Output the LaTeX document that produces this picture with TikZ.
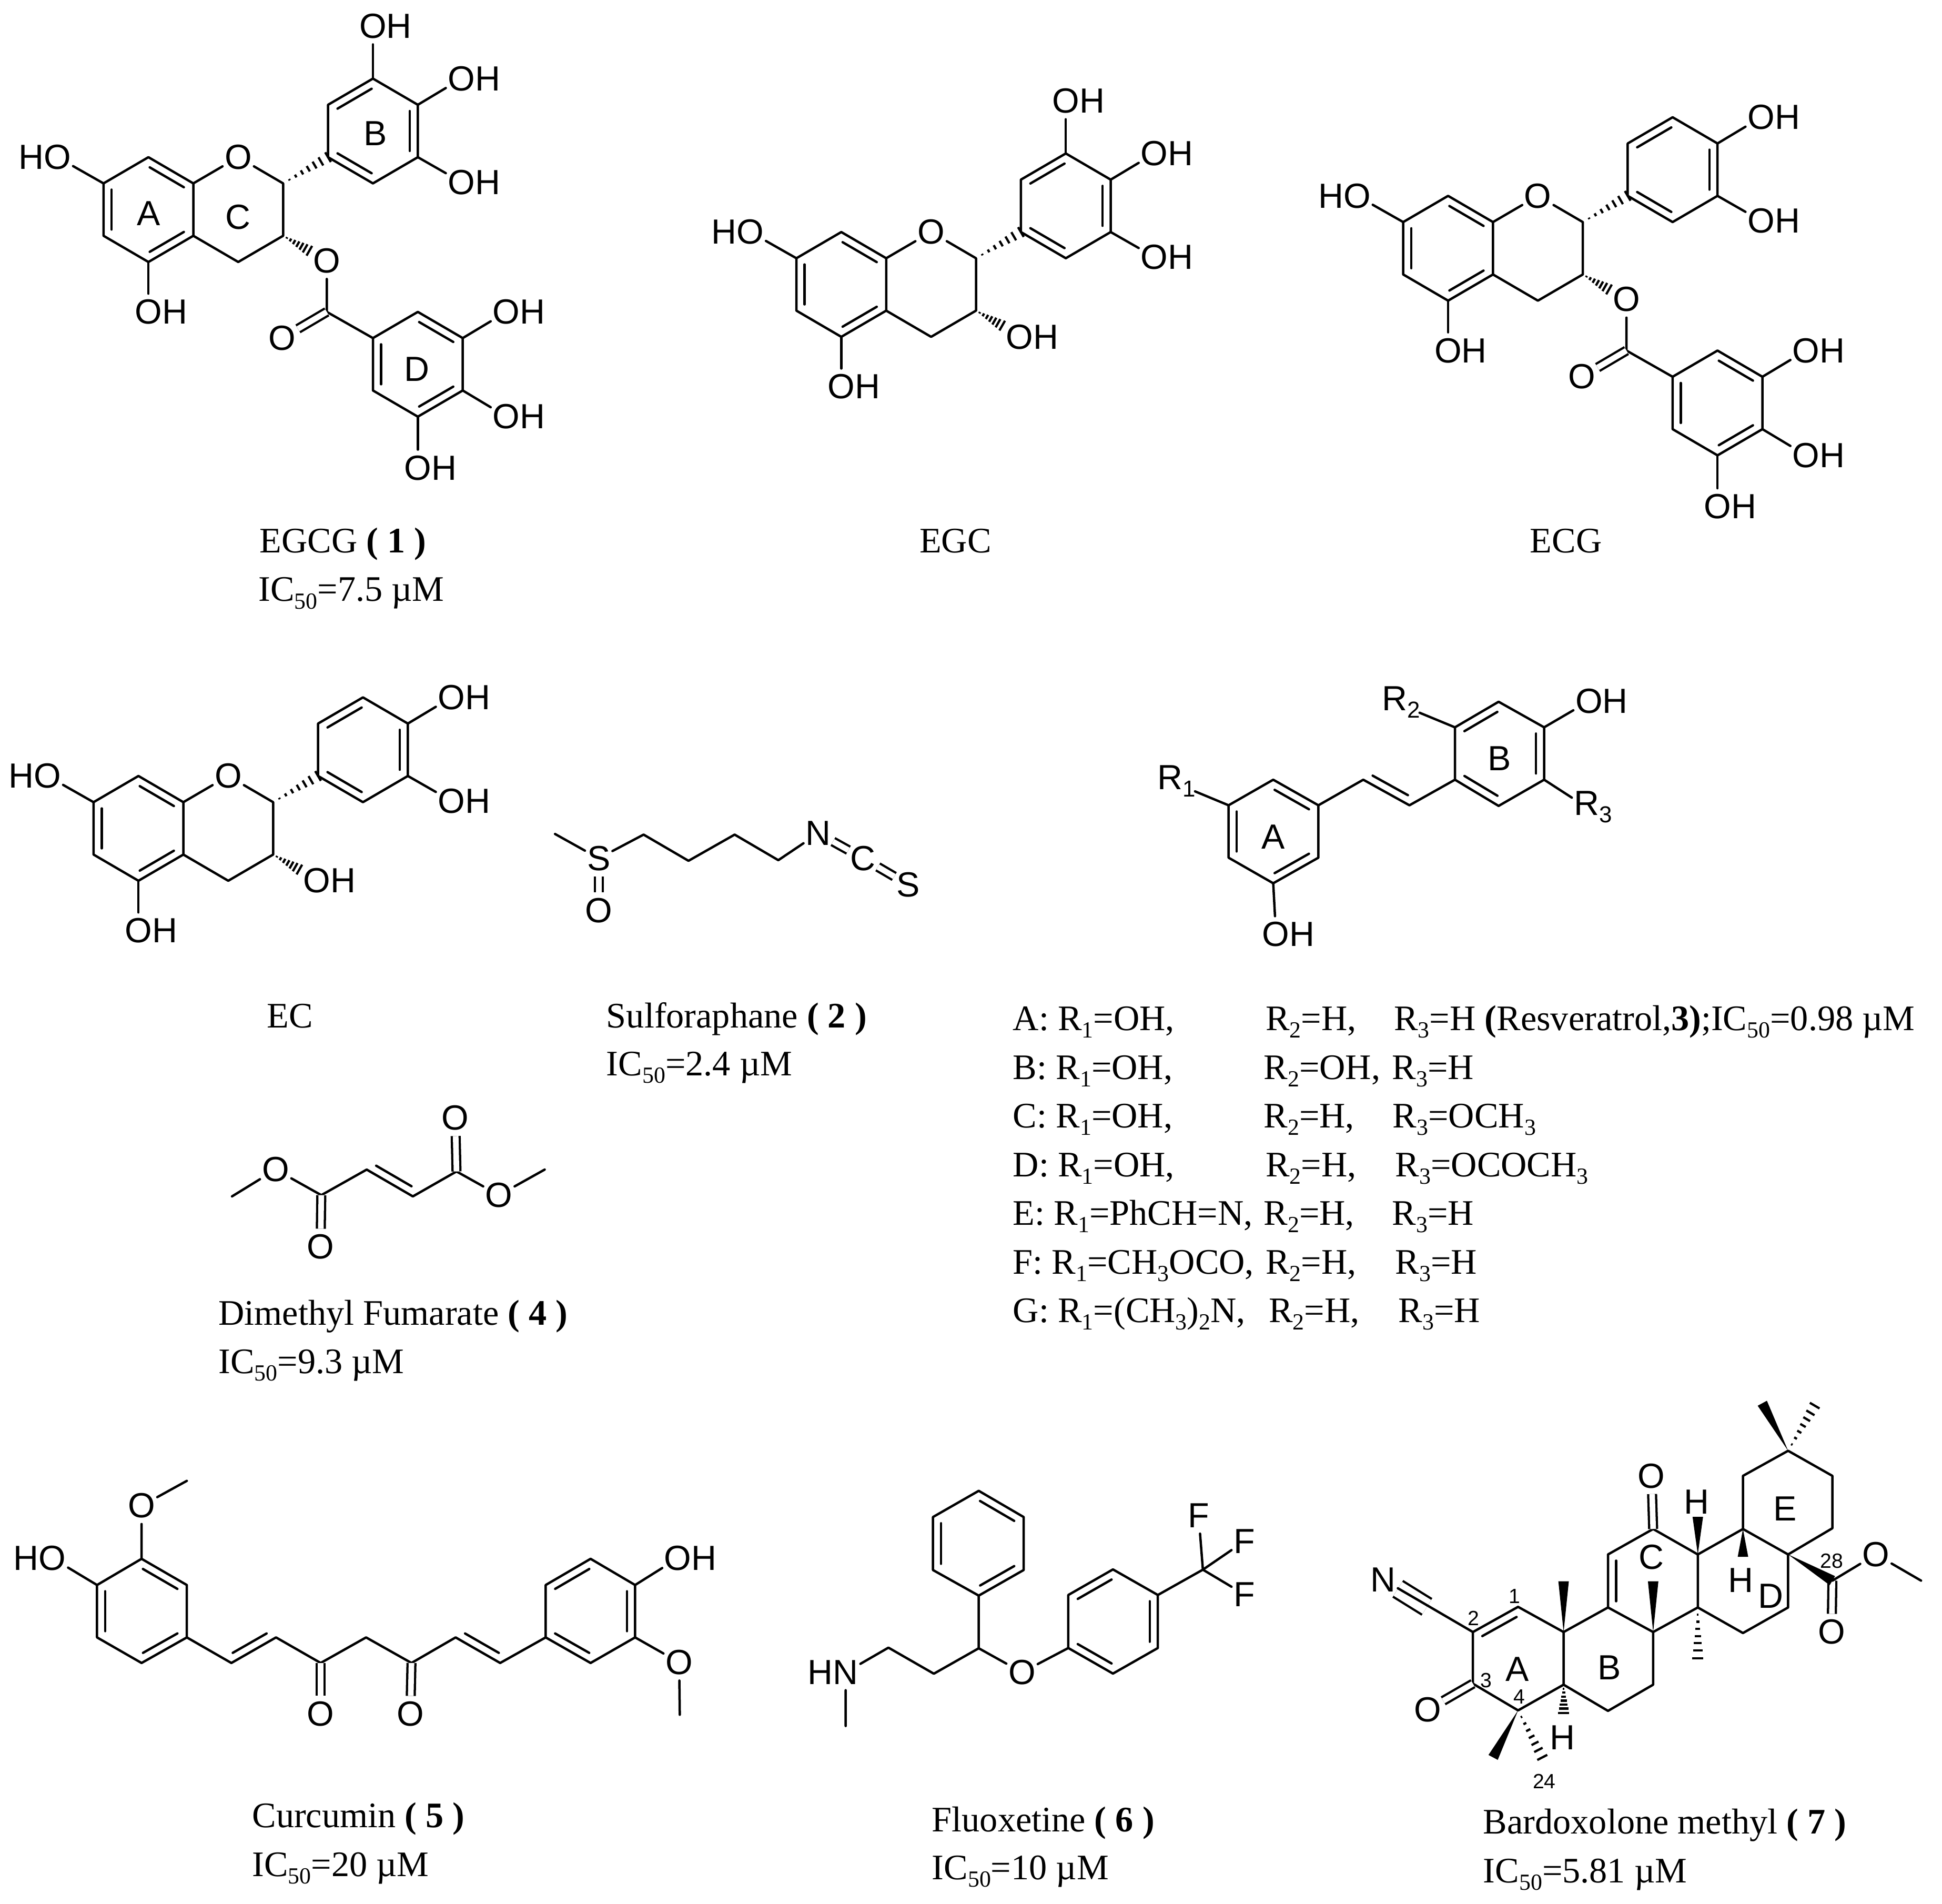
\documentclass[tikz,border=0pt]{standalone}
\usepackage{fontspec}
\setmainfont{Liberation Serif}
\setsansfont{Liberation Sans}
\usetikzlibrary{calc}

\newcommand{\subs}[1]{\raisebox{-6pt}{\fontsize{18.5}{20}\selectfont #1}}
\newcommand{\icfifty}[1]{IC\subs{50}=#1 µM}

\tikzset{
  bond/.style={line width=1.9pt, line join=round, line cap=round},
  innerline/.style={bond, shorten >=5pt, shorten <=5pt},
  dbl/.style={line width=1.8pt, double, double distance=4.5pt},
  atom/.style={font=\sffamily\fontsize{28}{30}\selectfont, inner xsep=1.5pt, inner ysep=4.5pt},
  num/.style={font=\sffamily\fontsize{16.5}{18}\selectfont, inner sep=0pt},
  capt/.style={font=\rmfamily\fontsize{28.8}{32}\selectfont, anchor=base west, inner sep=0pt},
}

\newcommand{\innerbond}[2]{\draw[innerline] ($(#1)!6.5pt!-90:(#2)$) -- ($(#2)!6.5pt!90:(#1)$);}
\newcommand{\wedgebond}[2]{\fill (#1) -- ($(#2)!4.2pt!90:(#1)$) -- ($(#2)!4.2pt!-90:(#1)$) -- cycle;}
\newcommand{\hashbond}[2]{\foreach \hbt in {.14,.28,.42,.56,.7,.84,1}{
    \coordinate (hb) at ($(#1)!\hbt!(#2)$);
    \draw[line width=1.8pt] ($(hb)!\hbt*4.5pt!90:(#1)$) -- ($(hb)!\hbt*4.5pt!-90:(#1)$);}}

\newcommand{\flavancore}{
  \coordinate (a1) at (0,0);
  \coordinate (a2) at (36,21);
  \coordinate (a3) at (36,63);
  \coordinate (a4) at (0,84);
  \coordinate (a5) at (-36,63);
  \coordinate (a6) at (-36,21);
  \coordinate (c2) at (108,21);
  \coordinate (c3) at (108,63);
  \coordinate (c4) at (72,84);
  \coordinate (b1) at (180,-63);
  \coordinate (b2) at (216,-42);
  \coordinate (b3) at (216,0);
  \coordinate (b4) at (180,21);
  \coordinate (b5) at (144,0);
  \coordinate (b6) at (144,-42);
  \coordinate (h3) at (129,75);
  \node[atom] (o1) at (72,0) {O};
  \node[atom] (ho7) at (-73,0) {\llap{H}O};
  \node[atom] (oh5) at (0,124) {O\rlap{H}};
  \draw[bond] (a1) -- (a2) -- (a3) -- (a4) -- (a5) -- (a6) -- cycle;
  \draw[bond] (a2) -- (o1) -- (c2) -- (c3) -- (c4) -- (a3);
  \draw[bond] (a6) -- (ho7);
  \draw[bond] (a4) -- (oh5);
  \innerbond{a1}{a2}
  \innerbond{a3}{a4}
  \innerbond{a5}{a6}
  \hashbond{c2}{b5}
  \hashbond{c3}{h3}
  \draw[bond] (b1) -- (b2) -- (b3) -- (b4) -- (b5) -- (b6) -- cycle;
  \innerbond{b6}{b1}
  \innerbond{b2}{b3}
  \innerbond{b4}{b5}
  \node[atom] (oh4) at (251,-63) {O\rlap{H}};
  \node[atom] (oh3) at (251,20) {O\rlap{H}};
  \draw[bond] (b2) -- (oh4);
  \draw[bond] (b3) -- (oh3);
}
\newcommand{\thirdoh}{
  \node[atom] (oh5b) at (180,-105) {O\rlap{H}};
  \draw[bond] (b1) -- (oh5b);
}
\newcommand{\freeoh}{
  \node[atom] (oh3c) at (143,84) {O\rlap{H}};
}
\newcommand{\gallate}{
  \node[atom] (oe) at (143,83) {O};
  \coordinate (ce) at (143,124);
  \node[atom] (oc) at (107.3,145) {O};
  \coordinate (d1) at (180,145);
  \coordinate (d2) at (216,124);
  \coordinate (d3) at (252,145);
  \coordinate (d4) at (252,187);
  \coordinate (d5) at (216,208);
  \coordinate (d6) at (180,187);
  \node[atom] (ohd3) at (287,124) {O\rlap{H}};
  \node[atom] (ohd4) at (287,208) {O\rlap{H}};
  \node[atom] (ohd5) at (216,249) {O\rlap{H}};
  \draw[bond] (oe) -- (ce) -- (d1);
  \draw[dbl] (ce) -- (oc);
  \draw[bond] (d1) -- (d2) -- (d3) -- (d4) -- (d5) -- (d6) -- cycle;
  \innerbond{d2}{d3}
  \innerbond{d4}{d5}
  \innerbond{d6}{d1}
  \draw[bond] (d3) -- (ohd3);
  \draw[bond] (d4) -- (ohd4);
  \draw[bond] (d5) -- (ohd5);
}

\begin{document}
\begin{tikzpicture}[x=1pt, y=-1pt]
  \useasboundingbox (0,0) rectangle (1557,1526);

  \begin{scope}[shift={(119,126)}, name prefix=egcg-]
    \flavancore
    \thirdoh
    \gallate
    \node[atom] (ringa) at (0,45) {A};
    \node[atom] (ringc) at (72,48) {C};
    \node[atom] (ringb) at (182,-19) {B};
    \node[atom] (ringd) at (215,170) {D};
  \end{scope}
  \node[capt] (egcgname) at (208,443) {EGCG \textbf{( 1 )}};
  \node[capt] (egcgic) at (207,482) {\icfifty{7.5}};

  \begin{scope}[shift={(674.5,186)}, name prefix=egc-]
    \flavancore
    \thirdoh
    \freeoh
  \end{scope}
  \node[capt] (egcname) at (737,443) {EGC};

  \begin{scope}[shift={(1161,157)}, name prefix=ecg-]
    \flavancore
    \gallate
  \end{scope}
  \node[capt] (ecgname) at (1226.5,443) {ECG};

  \begin{scope}[shift={(111,622)}, name prefix=ec-]
    \flavancore
    \freeoh
  \end{scope}
  \node[capt] (ecname) at (214,824) {EC};

  \begin{scope}[name prefix=sfn-]
    \coordinate (me) at (445,668.5);
    \node[atom] (s) at (480,688) {S};
    \node[atom] (so) at (480,730) {O};
    \coordinate (c1) at (516,669);
    \coordinate (c2) at (552,690);
    \coordinate (c3) at (589,669);
    \coordinate (c4) at (624,689.5);
    \node[atom] (n) at (656,668) {N};
    \node[atom] (c) at (692,688) {C};
    \node[atom] (st) at (728,709) {S};
    \draw[bond] (me) -- (s) -- (c1) -- (c2) -- (c3) -- (c4) -- (n);
    \draw[dbl] (s) -- (so);
    \draw[dbl] (n) -- (c);
    \draw[dbl] (c) -- (st);
  \end{scope}
  \node[capt] (sfnname) at (486,824) {Sulforaphane \textbf{( 2 )}};
  \node[capt] (sfnic) at (486,862) {\icfifty{2.4}};

  \begin{scope}[shift={(-3,0)}, name prefix=res-]
    \coordinate (a1) at (1023.8,625);
    \coordinate (a2) at (1060,645.5);
    \coordinate (a3) at (1060,687.5);
    \coordinate (a4) at (1023.8,708);
    \coordinate (a5) at (988,687.5);
    \coordinate (a6) at (988,645.5);
    \coordinate (v1) at (1096,625);
    \coordinate (v2) at (1133,645.5);
    \coordinate (b1) at (1169.5,625);
    \coordinate (b2) at (1169.5,583);
    \coordinate (b3) at (1204.5,562.5);
    \coordinate (b4) at (1241,583);
    \coordinate (b5) at (1241,625);
    \coordinate (b6) at (1204.5,646);
    \node[atom] (r1) at (941,626) {R\rlap{\subs{1}}};
    \node[atom] (r2) at (1121,563) {R\rlap{\subs{2}}};
    \node[atom] (r3) at (1275,647) {R\rlap{\subs{3}}};
    \node[atom] (oha) at (1026,749) {O\rlap{H}};
    \node[atom] (ohb) at (1277,562) {O\rlap{H}};
    \node[atom] (ringa) at (1024,671) {A};
    \node[atom] (ringb) at (1205,608) {B};
    \draw[bond] (a1) -- (a2) -- (a3) -- (a4) -- (a5) -- (a6) -- cycle;
    \draw[bond] (b1) -- (b2) -- (b3) -- (b4) -- (b5) -- (b6) -- cycle;
    \draw[bond] (a2) -- (v1) -- (v2) -- (b1);
    \draw[bond, shorten >=9pt] (a6) -- (r1);
    \draw[bond] (a4) -- (oha);
    \draw[bond, shorten >=9pt] (b2) -- (r2);
    \draw[bond] (b4) -- (ohb);
    \draw[bond] (b5) -- (r3);
    \innerbond{a1}{a2}
    \innerbond{a3}{a4}
    \innerbond{a5}{a6}
    \innerbond{b2}{b3}
    \innerbond{b4}{b5}
    \innerbond{b6}{b1}
    \innerbond{v2}{v1}
  \end{scope}

  \node[capt] (rowa) at (812,826) {A: R\subs{1}=OH,};
  \node[capt] (rowatwo) at (1014.5,826) {R\subs{2}=H,};
  \node[capt] (rowathree) at (1117.5,826) {R\subs{3}=H \textbf{(}Resveratrol,\textbf{3)};IC\subs{50}=0.98 µM};
  \node[capt] (rowb) at (812,865) {B: R\subs{1}=OH,};
  \node[capt] (rowbtwo) at (1013,865) {R\subs{2}=OH,};
  \node[capt] (rowbthree) at (1116,865) {R\subs{3}=H};
  \node[capt] (rowc) at (812,904) {C: R\subs{1}=OH,};
  \node[capt] (rowctwo) at (1013,904) {R\subs{2}=H,};
  \node[capt] (rowcthree) at (1116.5,904) {R\subs{3}=OCH\subs{3}};
  \node[capt] (rowd) at (812,943) {D: R\subs{1}=OH,};
  \node[capt] (rowdtwo) at (1014.5,943) {R\subs{2}=H,};
  \node[capt] (rowdthree) at (1118.5,943) {R\subs{3}=OCOCH\subs{3}};
  \node[capt] (rowe) at (812,982) {E: R\subs{1}=PhCH=N,};
  \node[capt] (rowetwo) at (1013,982) {R\subs{2}=H,};
  \node[capt] (rowethree) at (1116,982) {R\subs{3}=H};
  \node[capt] (rowf) at (812,1021) {F: R\subs{1}=CH\subs{3}OCO,};
  \node[capt] (rowftwo) at (1014.5,1021) {R\subs{2}=H,};
  \node[capt] (rowfthree) at (1118.5,1021) {R\subs{3}=H};
  \node[capt] (rowg) at (812,1060) {G: R\subs{1}=(CH\subs{3})\subs{2}N,};
  \node[capt] (rowgtwo) at (1017,1060) {R\subs{2}=H,};
  \node[capt] (rowgthree) at (1121,1060) {R\subs{3}=H};

  \begin{scope}[shift={(-1,-2)}, name prefix=dmf-]
    \coordinate (me1) at (187,961);
    \node[atom] (o1) at (222,939.5) {O};
    \coordinate (c1) at (258.6,960);
    \node[atom] (od) at (258,1001.5) {O};
    \coordinate (c2) at (295,939.5);
    \coordinate (c3) at (332,961);
    \coordinate (c4) at (367,941);
    \node[atom] (ou) at (366,898) {O};
    \node[atom] (o2) at (401,960) {O};
    \coordinate (me2) at (437.7,939.5);
    \draw[bond] (me1) -- (o1) -- (c1) -- (c2) -- (c3) -- (c4) -- (o2) -- (me2);
    \draw[dbl] (c1) -- (od);
    \draw[dbl] (c4) -- (ou);
    \innerbond{c3}{c2}
  \end{scope}
  \node[capt] (dmfname) at (175,1062) {Dimethyl Fumarate \textbf{( 4 )}};
  \node[capt] (dmfic) at (175,1101) {\icfifty{9.3}};

  \begin{scope}[shift={(-1.5,-.5)}, name prefix=cur-]
    \coordinate (a1) at (115,1250);
    \coordinate (a2) at (151.3,1271);
    \coordinate (a3) at (151.3,1313);
    \coordinate (a4) at (115,1333.5);
    \coordinate (a5) at (79.3,1313);
    \coordinate (a6) at (79.3,1271);
    \coordinate (c1) at (187,1333.5);
    \coordinate (c2) at (222.8,1313);
    \coordinate (c3) at (258.6,1333.5);
    \coordinate (c4) at (295,1313);
    \coordinate (c5) at (331.4,1333.5);
    \coordinate (c6) at (366.8,1313);
    \coordinate (c7) at (402.5,1333.5);
    \coordinate (b1) at (475,1250);
    \coordinate (b2) at (510.7,1271);
    \coordinate (b3) at (510.7,1313);
    \coordinate (b4) at (475,1333.5);
    \coordinate (b5) at (439,1313);
    \coordinate (b6) at (439,1271);
    \coordinate (me1) at (151.3,1187.5);
    \coordinate (me2) at (546.5,1375);
    \node[atom] (om1) at (115,1207.5) {O};
    \node[atom] (ho) at (43.5,1249.5) {\llap{H}O};
    \node[atom] (oh) at (545,1249.5) {O\rlap{H}};
    \node[atom] (om2) at (546,1333) {O};
    \node[atom] (ok1) at (258.6,1374.5) {O};
    \node[atom] (ok2) at (330.5,1374.5) {O};
    \draw[bond] (a1) -- (a2) -- (a3) -- (a4) -- (a5) -- (a6) -- cycle;
    \draw[bond] (b1) -- (b2) -- (b3) -- (b4) -- (b5) -- (b6) -- cycle;
    \draw[bond] (a3) -- (c1) -- (c2) -- (c3) -- (c4) -- (c5) -- (c6) -- (c7) -- (b5);
    \draw[bond] (a1) -- (om1) -- (me1);
    \draw[bond] (a6) -- (ho);
    \draw[bond] (b2) -- (oh);
    \draw[bond] (b3) -- (om2) -- (me2);
    \draw[dbl] (c3) -- (ok1);
    \draw[dbl] (c5) -- (ok2);
    \innerbond{a1}{a2}
    \innerbond{a3}{a4}
    \innerbond{a5}{a6}
    \innerbond{b6}{b1}
    \innerbond{b2}{b3}
    \innerbond{b4}{b5}
    \innerbond{c2}{c1}
    \innerbond{c7}{c6}
  \end{scope}
  \node[capt] (curname) at (202,1465) {Curcumin \textbf{( 5 )}};
  \node[capt] (curic) at (202,1504) {\icfifty{20}};

  \begin{scope}[shift={(-2,0)}, name prefix=flx-]
    \node[atom] (hn) at (680,1340.5) {\llap{H}N};
    \coordinate (me) at (680,1383.5);
    \coordinate (c1) at (714.3,1320.7);
    \coordinate (c2) at (750.7,1341.6);
    \coordinate (c3) at (786.7,1321.2);
    \coordinate (a1) at (786.7,1195);
    \coordinate (a2) at (822.7,1216);
    \coordinate (a3) at (822.7,1258.5);
    \coordinate (a4) at (786.7,1279);
    \coordinate (a5) at (750,1258.5);
    \coordinate (a6) at (750,1216);
    \node[atom] (o) at (821.4,1340.5) {O};
    \coordinate (b1) at (894.3,1258);
    \coordinate (b2) at (930.3,1278.5);
    \coordinate (b3) at (930.3,1321);
    \coordinate (b4) at (894.3,1341.5);
    \coordinate (b5) at (858.5,1321);
    \coordinate (b6) at (858.5,1278.5);
    \coordinate (cf) at (966.4,1258.2);
    \node[atom] (f1) at (963,1215) {F};
    \node[atom] (f2) at (999.6,1235.5) {F};
    \node[atom] (f3) at (999.6,1278) {F};
    \draw[bond] (me) -- (hn) -- (c1) -- (c2) -- (c3) -- (a4);
    \draw[bond] (c3) -- (o) -- (b5);
    \draw[bond] (a1) -- (a2) -- (a3) -- (a4) -- (a5) -- (a6) -- cycle;
    \draw[bond] (b1) -- (b2) -- (b3) -- (b4) -- (b5) -- (b6) -- cycle;
    \draw[bond] (b2) -- (cf);
    \draw[bond] (cf) -- (f1);
    \draw[bond] (cf) -- (f2);
    \draw[bond] (cf) -- (f3);
    \innerbond{a1}{a2}
    \innerbond{a3}{a4}
    \innerbond{a5}{a6}
    \innerbond{b6}{b1}
    \innerbond{b2}{b3}
    \innerbond{b4}{b5}
  \end{scope}
  \node[capt] (flxname) at (747,1468) {Fluoxetine \textbf{( 6 )}};
  \node[capt] (flxic) at (747,1506.5) {\icfifty{10}};

  \begin{scope}[shift={(-2.5,0)}, name prefix=bar-]
    \coordinate (c1) at (1219.6,1288);
    \coordinate (c2) at (1183.4,1308.2);
    \coordinate (c3) at (1183.4,1349.6);
    \coordinate (c4) at (1219.6,1371);
    \coordinate (c5) at (1256.1,1350.4);
    \coordinate (c10) at (1256.1,1308.2);
    \coordinate (c9) at (1291.7,1288.5);
    \coordinate (c8) at (1327.9,1308.2);
    \coordinate (c7) at (1327.9,1350.4);
    \coordinate (c6) at (1291.7,1371.4);
    \coordinate (c11) at (1291.7,1246);
    \coordinate (c12) at (1327.9,1225.6);
    \coordinate (c13) at (1363.7,1246);
    \coordinate (c14) at (1363.7,1288.5);
    \coordinate (c15) at (1399.9,1309);
    \coordinate (c16) at (1436.1,1288.5);
    \coordinate (c17) at (1436.1,1246);
    \coordinate (c18) at (1399.9,1225.6);
    \coordinate (c19) at (1399.9,1183);
    \coordinate (c20) at (1436.1,1162.9);
    \coordinate (c21) at (1471.6,1183);
    \coordinate (c22) at (1471.6,1225);
    \coordinate (ce) at (1471.6,1267);
    \coordinate (cn) at (1146.5,1288);
    \coordinate (me) at (1542.7,1267);
    \coordinate (w20a) at (1415.4,1124.8);
    \coordinate (w20b) at (1457.4,1126.7);
    \coordinate (w10) at (1256.1,1267.5);
    \coordinate (w8) at (1327.9,1267.5);
    \coordinate (w14) at (1363.7,1329.4);
    \coordinate (w13) at (1363.7,1215.9);
    \coordinate (w18) at (1399.9,1247.9);
    \coordinate (w5) at (1256.1,1373.2);
    \coordinate (w4a) at (1199.6,1408.7);
    \coordinate (w4b) at (1239,1408.7);
    \node[atom] (nit) at (1111.4,1266.2) {N};
    \node[atom] (o3) at (1147,1370.6) {O};
    \node[atom] (o12) at (1326.6,1183) {O};
    \node[atom] (oc) at (1471,1308.2) {O};
    \node[atom] (oe) at (1506.5,1246) {O};
    \node[atom] (h13) at (1362.8,1204) {H};
    \node[atom] (h18) at (1398.3,1266.5) {H};
    \node[atom] (h5) at (1255.2,1392.9) {H};
    \node[atom] (ringa) at (1219,1337.8) {A};
    \node[atom] (ringb) at (1292.6,1336.5) {B};
    \node[atom] (ringc) at (1326.3,1248) {C};
    \node[atom] (ringd) at (1422,1279.3) {D};
    \node[atom] (ringe) at (1433.8,1209.3) {E};
    \node[num] (num1) at (1216.7,1279.3) {1};
    \node[num] (num2) at (1184,1297.2) {2};
    \node[num] (num3) at (1194,1347) {3};
    \node[num] (num4) at (1220.6,1360) {4};
    \node[num] (num24) at (1240.6,1427.8) {24};
    \node[num] (num28) at (1471,1251.3) {28};
    \draw[bond] (c1) -- (c2) -- (c3) -- (c4) -- (c5) -- (c10) -- cycle;
    \draw[bond] (c10) -- (c9) -- (c8) -- (c7) -- (c6) -- (c5);
    \draw[bond] (c9) -- (c11) -- (c12) -- (c13) -- (c14) -- (c8);
    \draw[bond] (c14) -- (c15) -- (c16) -- (c17) -- (c18) -- (c13);
    \draw[bond] (c18) -- (c19) -- (c20) -- (c21) -- (c22) -- (c17);
    \draw[dbl, double distance=13pt] (cn) -- (nit);
    \draw[bond] (c2) -- (nit);
    \draw[dbl] (c3) -- (o3);
    \draw[dbl] (c12) -- (o12);
    \draw[dbl] (ce) -- (oc);
    \draw[bond] (ce) -- (oe) -- (me);
    \innerbond{c2}{c1}
    \innerbond{c9}{c11}
    \wedgebond{c20}{w20a}
    \hashbond{c20}{w20b}
    \wedgebond{c10}{w10}
    \wedgebond{c8}{w8}
    \hashbond{c14}{w14}
    \wedgebond{c13}{w13}
    \wedgebond{c18}{w18}
    \hashbond{c5}{w5}
    \wedgebond{c4}{w4a}
    \hashbond{c4}{w4b}
    \wedgebond{c17}{ce}
  \end{scope}
  \node[capt] (barname) at (1189,1470) {Bardoxolone methyl \textbf{( 7 )}};
  \node[capt] (baric) at (1189,1509) {\icfifty{5.81}};
\end{tikzpicture}
\end{document}
